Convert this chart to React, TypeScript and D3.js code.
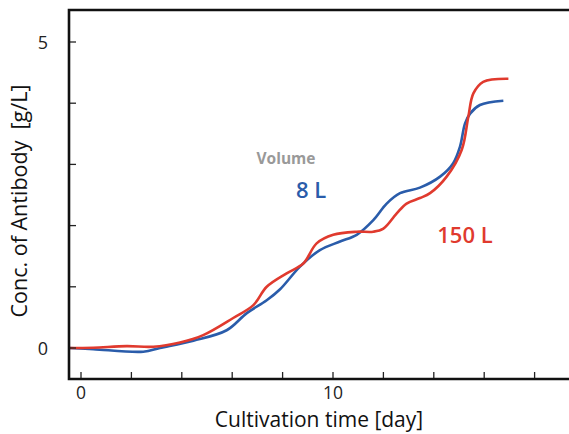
import React from "react";
import * as d3 from "d3";

const blueDays = [-0.48, 0.49, 2.47, 3.13, 4.46, 5.78, 6.58, 7.37, 7.9, 8.69, 9.48, 10.28, 10.94, 11.6, 12.13, 12.66, 13.45, 14.25, 14.77, 15.04, 15.24, 15.44, 15.83, 16.76];
const blueVals = [0, -0.02, -0.06, 0.0, 0.12, 0.29, 0.57, 0.78, 0.96, 1.33, 1.6, 1.74, 1.85, 2.09, 2.36, 2.53, 2.62, 2.8, 3.02, 3.29, 3.67, 3.83, 3.97, 4.04];
const redDays = [-0.48, 0.49, 1.81, 2.87, 3.93, 4.85, 6.04, 6.84, 7.37, 8.16, 8.82, 9.35, 10.01, 10.94, 11.6, 12.0, 12.53, 12.92, 13.45, 13.85, 14.51, 15.11, 15.37, 15.57, 15.96, 16.96];
const redVals = [0, 0.005, 0.03, 0.02, 0.09, 0.21, 0.49, 0.7, 1.0, 1.22, 1.38, 1.71, 1.85, 1.9, 1.9, 1.95, 2.2, 2.36, 2.45, 2.53, 2.8, 3.24, 3.78, 4.16, 4.35, 4.4];
const xTicks = [0, 2, 4, 6, 8, 10, 12, 14, 16, 18];
const xTickLabels = ["0", "", "", "", "", "10", "", "", "", ""];
const yTicks = [0, 1, 2, 3, 4, 5];
const yTickLabels = ["0", "", "", "", "", "5"];

const BLUE = "#2a5caa";
const RED = "#e03a2e";
const FONT = "'Open Sans', 'Noto Sans', sans-serif";

export default function App() {
  const W = 569, H = 434;
  const x = d3.scaleLinear().domain([0, 10]).range([81, 333]);
  const y = d3.scaleLinear().domain([0, 5]).range([348, 42]);
  const line = d3
    .line<[number, number]>()
    .x((d) => x(d[0]))
    .y((d) => y(d[1]))
    .curve(d3.curveCatmullRom.alpha(0.5));
  const blue = blueDays.map((d, i) => [d, blueVals[i]] as [number, number]);
  const red = redDays.map((d, i) => [d, redVals[i]] as [number, number]);
  const left = 69, top = 10, bottom = 379, right = 569;
  return (
    <svg width={W} height={H} style={{ position: "absolute", left: 0, top: 0, background: "#fff" }}>
      <path d={line(blue) || ""} fill="none" stroke={BLUE} strokeWidth={2.6} />
      <path d={line(red) || ""} fill="none" stroke={RED} strokeWidth={2.6} />
      {xTicks.map((t) => (
        <line key={"xt" + t} x1={x(t)} x2={x(t)} y1={bottom} y2={bottom - 7} stroke="#222" strokeWidth={1.3} />
      ))}
      {yTicks.map((t) => (
        <line key={"yt" + t} x1={left} x2={left + 7} y1={y(t)} y2={y(t)} stroke="#222" strokeWidth={1.3} />
      ))}
      <path d={`M${right},${top}H${left}V${bottom}H${right}`} fill="none" stroke="#111" strokeWidth={2.6} />
      {xTicks.map((t, i) =>
        xTickLabels[i] ? (
          <text key={"xl" + t} x={x(t)} y={399} fontSize={17.5} fontFamily={FONT} textAnchor="middle" fill="#222">
            {xTickLabels[i]}
          </text>
        ) : null
      )}
      {yTicks.map((t, i) =>
        yTickLabels[i] ? (
          <text key={"yl" + t} x={48} y={y(t) + 7} fontSize={18} fontFamily={FONT} textAnchor="end" fill="#222">
            {yTickLabels[i]}
          </text>
        ) : null
      )}
      <text x={319} y={427} fontSize={21} fontFamily={FONT} textAnchor="middle" fill="#111">
        Cultivation time [day]
      </text>
      <text transform="translate(27,201) rotate(-90)" fontSize={21.5} fontFamily={FONT} textAnchor="middle" fill="#111">
        Conc. of Antibody&#160;&#160;[g/L]
      </text>
      <text x={286} y={164} fontSize={15.5} fontWeight="bold" fontFamily={FONT} textAnchor="middle" fill="#999">
        Volume
      </text>
      <text x={311} y={198} fontSize={22} fontWeight="600" fontFamily={FONT} textAnchor="middle" fill={BLUE}>
        8 L
      </text>
      <text x={465} y={243} fontSize={22} fontWeight="600" fontFamily={FONT} textAnchor="middle" fill={RED}>
        150 L
      </text>
    </svg>
  );
}
